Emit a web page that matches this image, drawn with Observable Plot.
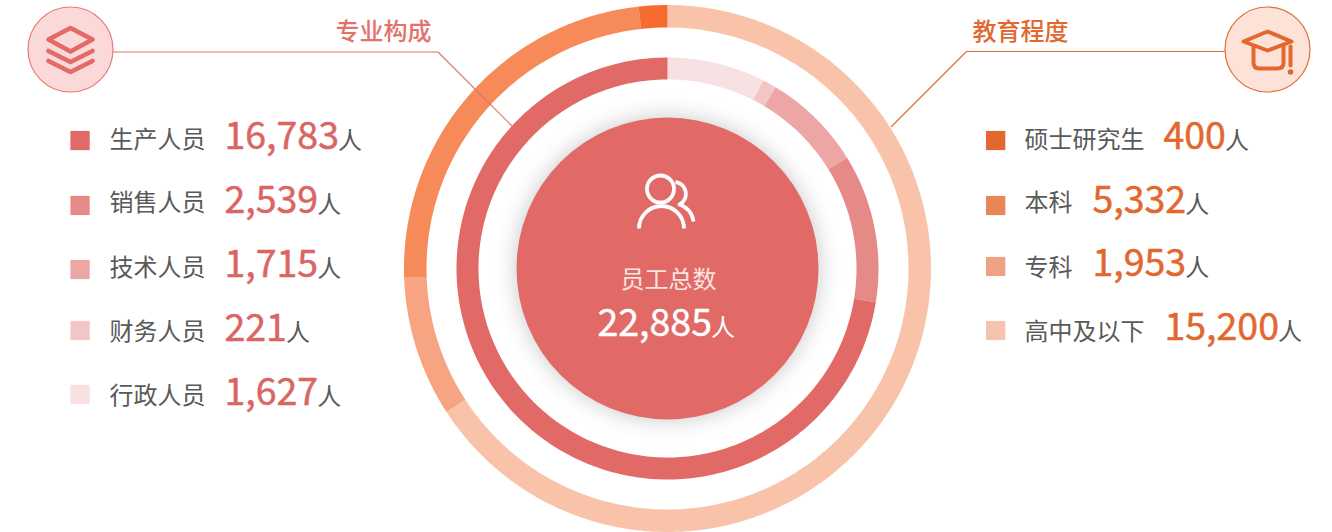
<!DOCTYPE html>
<html>
<head>
<meta charset="utf-8">
<style>
html,body{margin:0;padding:0;background:#fff;}
svg{display:block;}
</style>
<script src="https://cdn.jsdelivr.net/npm/d3@7"></script>
<script src="https://cdn.jsdelivr.net/npm/@observablehq/plot@0.6"></script>
</head>
<body>
<script>
// ---------- data ----------
const majorNames = ["生产人员","销售人员","技术人员","财务人员","行政人员"];
const majorValues = [16783,2539,1715,221,1627];
const majorSwatches = ["#e16a67","#e68a88","#eda6a6","#f3c5c5","#f7e1e2"];
const majorSweeps = [260.8,40.9,27.5,3.8,27.0];

const eduNames = ["硕士研究生","本科","专科","高中及以下"];
const eduValues = [400,5332,1953,15200];
const eduSwatches = ["#e2682f","#e88657","#eea284","#f4c4af"];
const eduRingColors = ["#f56c2e","#f68a58","#f7a482","#f9c3aa"];
const eduSweeps = [6.3,85.7,31.0,237.0];

const totalLabel = "员工总数";
const totalValue = 22885;
const unit = "人";
const titles = ["专业构成","教育程度"];

// ---------- layout ----------
const W = 1332, H = 532, cx = 667, cy = 268;
const FONT = '"Noto Sans CJK SC","Noto Sans",sans-serif';
const fmt = d3.format(",");
const ctx = document.createElement("canvas").getContext("2d");
function textW(s, size){ ctx.font = `${size}px ${FONT}`; return ctx.measureText(s).width; }

function wedges(order, r0, r1){
  // order: [{name,color,sweep}] clockwise from twelve o'clock
  const rows = []; let a = 0;
  for (const s of order){
    const n = Math.max(2, Math.ceil(s.sweep));
    const angles = d3.range(n + 1).map(i => a + s.sweep * i / n);
    const pt = (r, d) => { const t = d * Math.PI / 180; return {name:s.name, color:s.color, x:cx + r * Math.sin(t), y:cy - r * Math.cos(t)}; };
    angles.forEach(d => rows.push(pt(r1, d)));
    angles.slice().reverse().forEach(d => rows.push(pt(r0, d)));
    a += s.sweep;
  }
  return rows;
}
const innerOrder = majorNames.map((name,i)=>({name,color:majorSwatches[i],sweep:majorSweeps[i]})).reverse();
const outerOrder = eduNames.map((name,i)=>({name,color:eduRingColors[i],sweep:eduSweeps[i]})).reverse();
const ringRows = [...wedges(outerOrder,241,263.5), ...wedges(innerOrder,189,211)];

const numSize = 37.5, labelSize = 24, unitSize = 24;
const leftColor = "#da6663", rightColor = "#e2682f", grey = "#595959";

const leftSq = [140.5,205.5,269.5,330.5,394.5];
const leftLab = [147.5,210.5,275,339,403];
const leftNum = [148,212,276,340,404];
const rightSq = [140.5,205.5,266.5,330.5];
const rightLab = [147.5,210.5,275,339];
const rightNum = [148,212,275,339];
const rightNumX = [1163,1092,1092,1164];

const leftLegend = majorNames.map((name,i)=>({name,value:fmt(majorValues[i]),color:majorSwatches[i],sq:leftSq[i],lab:leftLab[i],num:leftNum[i],numX:224}));
const rightLegend = eduNames.map((name,i)=>({name,value:fmt(eduValues[i]),color:eduSwatches[i],sq:rightSq[i],lab:rightLab[i],num:rightNum[i],numX:rightNumX[i]}));

function svgUri(view, body){
  return "data:image/svg+xml," + encodeURIComponent(
    `<svg xmlns="http://www.w3.org/2000/svg" viewBox="${view}" width="85" height="85" fill="none" stroke-linecap="round" stroke-linejoin="round">${body}</svg>`);
}
const icons = [
  {x:70,y:49,src:svgUri("27.5 6.5 85 85",`<g stroke="#e26a67" stroke-width="4.6"><path d="M48 39L70 27.5L92 39L70 51Z"/><path d="M48 50.5L70 61.5L92 50.5"/><path d="M48 60.5L70 71.5L92 60.5"/></g>`)},
  {x:1267,y:49,src:svgUri("1224.5 6.5 85 85",`<g stroke="#e2682f" stroke-width="4"><path d="M1243 41L1267 31L1291 41L1267 50Z"/><path d="M1253 46V62Q1253 68 1259 68H1277Q1283 68 1283 62V46"/><path d="M1290 46V65"/></g><circle cx="1290" cy="71.5" r="2.8" fill="#e2682f"/>`)},
  {x:665,y:205,src:svgUri("622.5 162.5 85 85",`<g stroke="#fff" stroke-width="3.8" stroke-linecap="butt"><circle cx="660" cy="188.5" r="13.5"/><path d="M638.5 228A22.5 22.5 0 0 1 683.5 228"/><path d="M675 181.5A12 12 0 0 1 679 204A20 20 0 0 1 693 221"/></g>`)}
];

const leaders = [
  {k:"l",x:113,y:51.5},{k:"l",x:437.5,y:51.5},{k:"l",x:512,y:126},
  {k:"r",x:1225,y:51},{k:"r",x:966,y:51},{k:"r",x:891,y:126}
];

function legendMarks(rows, sqX, labelX, numColor){
  return [
    Plot.rect(rows,{x1:()=>sqX,x2:()=>sqX+19.3,y1:d=>d.sq-9.6,y2:d=>d.sq+9.6,fill:"color"}),
    Plot.text(rows,{x:()=>labelX,y:"lab",text:"name",textAnchor:"start",lineAnchor:"bottom",fontSize:labelSize,fill:grey}),
    Plot.text(rows,{x:"numX",y:"num",text:"value",textAnchor:"start",lineAnchor:"bottom",fontSize:numSize,fill:numColor,stroke:numColor,strokeWidth:0.5,paintOrder:"normal"}),
    Plot.text(rows,{x:d=>d.numX+textW(d.value,numSize)-1,y:"num",text:()=>unit,textAnchor:"start",lineAnchor:"bottom",fontSize:unitSize,fill:grey})
  ];
}

const totalText = fmt(totalValue);
const chart = Plot.plot({
  width:W,height:H,margin:0,
  x:{type:"identity",axis:null},
  y:{type:"identity",axis:null},
  color:{type:"identity"},
  style:{background:"#fff",fontFamily:FONT,overflow:"hidden"},
  marks:[
    Plot.line(ringRows,{x:"x",y:"y",z:"name",fill:"color",stroke:"none"}),
    Plot.dot([0],{x:()=>cx,y:()=>cy,r:151,fill:"#e16a67",stroke:"none",imageFilter:"drop-shadow(0 0 11px rgba(0,0,0,.22))"}),
    Plot.line(leaders.filter(d=>d.k==="l"),{x:"x",y:"y",stroke:"#e0726e",strokeWidth:1.2}),
    Plot.line(leaders.filter(d=>d.k==="r"),{x:"x",y:"y",stroke:"#e36c36",strokeWidth:1.2}),
    Plot.dot([0],{x:()=>70,y:()=>49,r:42.5,fill:"#fbd9d9",stroke:"#e57c78",strokeWidth:1.2}),
    Plot.dot([0],{x:()=>1267,y:()=>49,r:42.5,fill:"#fde2d7",stroke:"#e36c36",strokeWidth:1.2}),
    Plot.image(icons,{x:"x",y:"y",width:85,height:85,src:"src"}),
    Plot.text([titles[0]],{x:()=>335,y:()=>39,text:d=>d,textAnchor:"start",lineAnchor:"bottom",fontSize:24,fontWeight:500,fill:"#e4716c"}),
    Plot.text([titles[1]],{x:()=>972,y:()=>39,text:d=>d,textAnchor:"start",lineAnchor:"bottom",fontSize:24,fontWeight:500,fill:"#e2682f"}),
    ...legendMarks(leftLegend,70.4,109,leftColor),
    ...legendMarks(rightLegend,986,1024,rightColor),
    Plot.text([totalLabel],{x:()=>620,y:()=>287,text:d=>d,textAnchor:"start",lineAnchor:"bottom",fontSize:24,fill:"#fbe4e2"}),
    Plot.text([totalText],{x:()=>597,y:()=>335,text:d=>d,textAnchor:"start",lineAnchor:"bottom",fontSize:numSize,fill:"#fff",stroke:"#fff",strokeWidth:0.4,paintOrder:"normal"}),
    Plot.text([unit],{x:()=>597+textW(totalText,numSize)-1,y:()=>335,text:d=>d,textAnchor:"start",lineAnchor:"bottom",fontSize:24,fill:"#fff"})
  ]
});
document.body.appendChild(chart);
</script>
</body>
</html>
